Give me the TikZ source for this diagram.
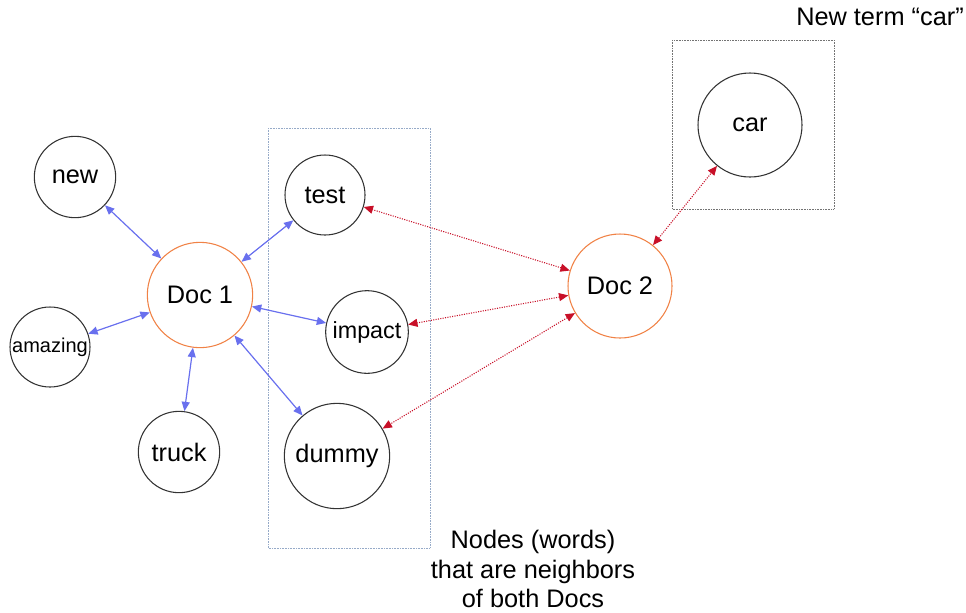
\documentclass[tikz,border=0pt]{standalone}
\usepackage{fontspec}
\setmainfont{Liberation Sans}
\usetikzlibrary{arrows.meta}
\definecolor{docorange}{RGB}{240,130,70}
\definecolor{linkblue}{RGB}{105,112,238}
\definecolor{linkred}{RGB}{200,16,40}
\definecolor{boxgray}{RGB}{150,170,200}

\begin{document}
\begin{tikzpicture}[x=0.75pt,y=-0.75pt,
        word/.style={circle,draw=black!80,line width=0.8pt,inner sep=0pt,font=\fontsize{19}{23}\selectfont},
        doc/.style={word,draw=docorange},
        own/.style={{Triangle[length=7pt,width=6pt]}-{Triangle[length=7pt,width=6pt]},linkblue,line width=0.9pt},
        shared/.style={{Triangle[length=7pt,width=6pt]}-{Triangle[length=7pt,width=6pt]},linkred,line width=0.8pt,densely dotted},
        frame/.style={draw=boxgray,line width=0.7pt,dash pattern=on 0.6pt off 0.6pt}]
            \useasboundingbox (0,0) rectangle (966,612);
            % boxes
            \draw[frame] (268,128) rectangle (430,548);
            \draw[frame,draw=black!55] (672,40) rectangle (834,209);
            % docs
            \node[doc,minimum size=79pt] (doc1) at (200,295) {Doc 1};
            \node[doc,minimum size=78pt] (doc2) at (620,286) {Doc 2};
            % words
            \node[word,minimum size=61pt] (new) at (75,177) {new};
            \node[word,minimum size=60pt,font=\fontsize{15}{18}\selectfont] (amazing) at (50,347) {amazing};
            \node[word,minimum size=61pt] (truck) at (179,452) {truck};
            \node[word,minimum size=60pt] (test) at (325,195) {test};
            \node[word,minimum size=62pt,font=\fontsize{17.5}{21}\selectfont] (impact) at (367,332) {impact};
            \node[word,minimum size=79pt] (dummy) at (337,456) {dummy};
            \node[word,minimum size=78pt] (car) at (750,125) {car};
            % links
            \foreach \w in {new,amazing,truck,test,impact,dummy}{
                \draw[own] (doc1) -- (\w);
            }
            \foreach \w in {test,impact,dummy,car}{
                \draw[shared] (doc2) -- (\w);
            }
            % texts
            \node[font=\fontsize{19}{23}\selectfont] (newterm) at (880,17) {New term “car”};
            \node[font=\fontsize{19}{22}\selectfont,align=center] (caption) at (533,569) {Nodes (words)\\that are neighbors\\of both Docs};
        \end{tikzpicture}
\end{document}
